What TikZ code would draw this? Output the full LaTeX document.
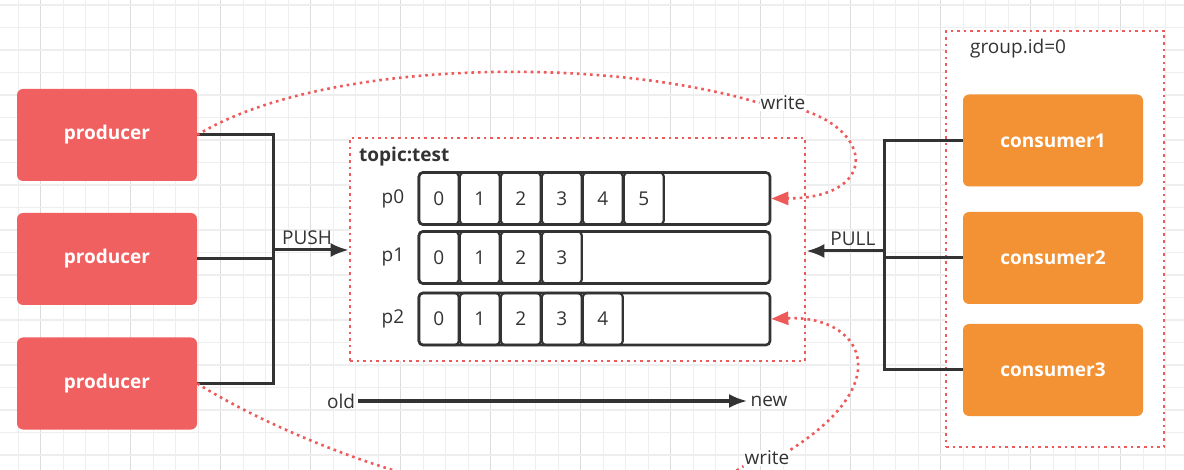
\documentclass[tikz,border=0pt]{standalone}
\usepackage{fontspec}
\setmainfont{Open Sans}
\usetikzlibrary{arrows.meta, positioning, calc}

\definecolor{prodred}{RGB}{240,96,96}
\definecolor{consorange}{RGB}{242,146,52}
\definecolor{dotred}{RGB}{238,90,90}
\definecolor{inkgray}{RGB}{51,51,51}
\definecolor{gridminor}{RGB}{238,238,238}
\definecolor{gridmajor}{RGB}{220,220,220}

\begin{document}
\begin{tikzpicture}[x=1pt, y=-1pt, font=\fontsize{19}{22}\selectfont, text=inkgray,
    prodbox/.style={fill=prodred, rounded corners=6pt, minimum width=180pt, minimum height=92pt, text=white, font=\fontsize{19}{22}\selectfont\bfseries},
    consbox/.style={prodbox, fill=consorange},
    groupbox/.style={draw=dotred, fill=white, line width=2.6pt, dash pattern=on 2.6pt off 4pt},
    rowbox/.style={draw=inkgray, line width=2.6pt, rounded corners=4pt, minimum width=351pt, minimum height=52pt, inner sep=0pt},
    cellbox/.style={draw=inkgray, line width=2.2pt, rounded corners=4pt, minimum width=40pt, minimum height=52pt, inner sep=0pt, anchor=west},
    wire/.style={draw=inkgray, line width=3pt},
    dotline/.style={draw=dotred, line width=2.6pt, dash pattern=on 2.6pt off 4pt},
    blacktip/.style={-{Latex[length=18pt, width=14pt]}},
    redtip/.style={-{Triangle[width=13pt, length=17pt, fill=dotred]}}]

    \useasboundingbox (0,0) rectangle (1184,470);
    \clip (0,0) rectangle (1184,470);
    \fill[white] (0,0) rectangle (1184,470);

    % background grid
    \foreach \i in {0,...,52} {
        \pgfmathsetmacro{\gx}{18.3+22.5*\i}
        \ifnum\numexpr\i-4*(\i/4)\relax=1
            \draw[gridmajor, line width=1.2pt] (\gx,0) -- (\gx,470);
        \else
            \draw[gridminor, line width=1.2pt] (\gx,0) -- (\gx,470);
        \fi
    }
    \foreach \j in {0,...,20} {
        \pgfmathsetmacro{\gy}{5+22.5*\j}
        \draw[gridminor, line width=1.2pt] (0,\gy) -- (1184,\gy);
    }

    % producers
    \node[prodbox] (prod1) at (107,135) {producer};
    \node[prodbox] (prod2) at (107,259) {producer};
    \node[prodbox] (prod3) at (107,383.5) {producer};

    % topic with partitions
    \node[groupbox, minimum width=455pt, minimum height=223pt] (topic) at (577.5,249.5) {};
    \node[anchor=west, inner sep=0pt, font=\fontsize{19}{22}\selectfont\bfseries] (topicname) at (359,157) {topic:test};

    \node[rowbox] (row0) at (594.5,198.5) {};
    \node[rowbox] (row1) at (594.5,257.5) {};
    \node[rowbox] (row2) at (594.5,319) {};
    \node[left=10pt of row0] (p0) {p0};
    \node[left=10pt of row1] (p1) {p1};
    \node[left=10pt of row2] (p2) {p2};

    \foreach \r/\n in {0/5, 1/3, 2/4} {
        \foreach \c in {0,...,\n} {
            \node[cellbox] (c\r\c) at ([xshift=41*\c pt]row\r.west) {\c};
        }
    }

    % consumer group
    \node[groupbox, minimum width=218pt, minimum height=416pt] (group) at (1055,239) {};
    \node[anchor=west, inner sep=0pt] (groupname) at (970,49) {group.id=0};
    \node[consbox] (cons1) at (1053,140.5) {consumer1};
    \node[consbox] (cons2) at (1053,258) {consumer2};
    \node[consbox] (cons3) at (1053,370) {consumer3};

    % push side
    \coordinate (jl) at (273,250);
    \draw[wire] (prod1.east) -| (jl);
    \draw[wire] (prod3.east) -| (jl);
    \draw[wire] (prod2.east) -- (prod2.east -| jl);
    \draw[wire, blacktip] (jl) -- node[above, pos=0.45] {PUSH} (topic.west |- jl);

    % pull side
    \coordinate (jr) at (884,251);
    \draw[wire] (cons1.west) -| (jr);
    \draw[wire] (cons3.west) -| (jr);
    \draw[wire] (cons2.west) -- (cons2.west -| jr);
    \draw[wire, blacktip] (jr) -- node[above, pos=0.4] {PULL} (topic.east |- jr);

    % old -> new
    \node (old) at (341,401) {old};
    \node (new) at (769,401) {new};
    \draw[wire, blacktip] (old) -- (new);

    % writes
    \node[fill=white, inner sep=1pt] (write1) at (783,103) {write};
    \node[fill=white, inner sep=1pt] (write2) at (767,458) {write};
    \draw[dotline] (prod1.east) .. controls (320,60) and (600,55) .. (write1.west);
    \draw[dotline, redtip] (write1.south east) .. controls (875,135) and (875,198) .. (row0.east);
    \draw[dotline] (prod3.east) .. controls (320,460) and (600,560) .. (write2.south west);
    \draw[dotline, redtip] (write2.north east) .. controls (900,380) and (860,315) .. (row2.east);
\end{tikzpicture}
\end{document}
